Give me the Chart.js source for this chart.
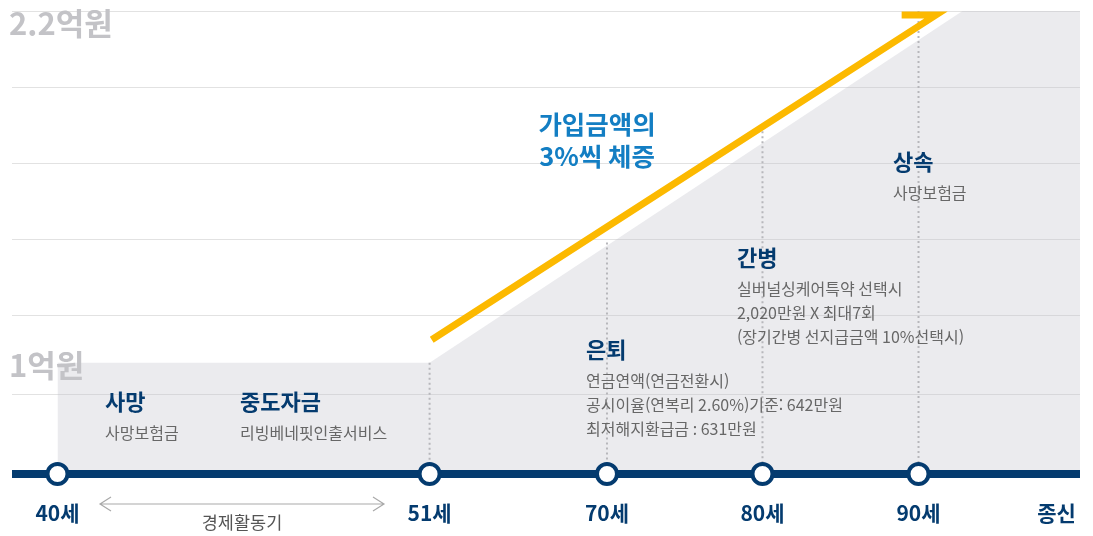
<!DOCTYPE html>
<html lang="ko">
<head>
<meta charset="utf-8">
<script src="https://cdn.jsdelivr.net/npm/chart.js@4/dist/chart.umd.min.js"></script>
<style>
  html, body { margin: 0; padding: 0; background: #fff; }
  #wrap { width: 1093px; height: 536px; position: relative; }
</style>
</head>
<body>
<div id="wrap"><canvas id="planChart"></canvas></div>
<script>
// timeline stops (position along the bar, 0-100) and their labels
const stopLabels = ['40세', '51세', '70세', '80세', '90세', '종신'];
const stopPos = [4.26, 39.1, 55.71, 70.27, 84.88, 97.8];
const markerCount = 5;

// benefit amount (억원) - gray area
const benefitX = [4.26, 39.1, 89.0, 100];
const benefitY = [1.0, 1.0, 2.2, 2.2];

// 3% yearly increase - orange arrow (last point is the arrow barb)
const premiumX = [39.3, 86.5, 83.3];
const premiumY = [1.078, 2.186, 2.186];

// dotted drop lines from each event
const dropX = [39.1, 55.71, 70.27, 84.88];
const dropTop = [1.0, 1.41, 1.79, 2.2];

// y scale
const yMin = 0.62, yMax = 2.2;
const gridValues = [2.2, 1.94, 1.68, 1.42, 1.16, 0.89];
const yLabels = [{ value: 2.2, text: '2.2억원', dy: 12 }, { value: 1.0, text: '1억원', dy: 3 }];

// event notes
const notes = [
  { x: 8.71, y: 0.866, title: '사망', lines: ['사망보험금'] },
  { x: 21.35, y: 0.866, title: '중도자금', lines: ['리빙베네핏인출서비스'] },
  { x: 53.75, y: 1.043, title: '은퇴', lines: ['연금연액(연금전환시)', '공시이율(연복리 2.60%)기준: 642만원', '최저해지환급금 : 631만원'] },
  { x: 67.88, y: 1.357, title: '간병', lines: ['실버널싱케어특약 선택시', '2,020만원 X 최대7회', '(장기간병 선지급금액 10%선택시)'] },
  { x: 82.49, y: 1.685, title: '상속', lines: ['사망보험금'] }
];
const increaseText = ['가입금액의', '3%씩 체증'];
const increaseAt = { x: 54.78, y: 1.814 };
const workSpan = [8.24, 34.83];
const workText = '경제활동기';

const NAVY = '#043b6f';
const FONT = '"Noto Sans CJK KR", "Noto Sans", sans-serif';

const pts = (xs, ys) => xs.map((x, i) => ({ x: x, y: ys[i] }));

const datasets = [
  {
    label: 'markers',
    data: stopPos.slice(0, markerCount).map(x => ({ x: x, y: yMin })),
    showLine: false,
    pointRadius: 10,
    pointBorderWidth: 4,
    pointBackgroundColor: '#fff',
    pointBorderColor: NAVY,
    clip: false,
    order: 0
  },
  {
    label: 'timeline',
    data: [{ x: 0, y: yMin }, { x: 100, y: yMin }],
    borderColor: NAVY,
    borderWidth: 8,
    pointRadius: 0,
    clip: false,
    order: 1
  },
  {
    label: 'premium',
    data: pts(premiumX, premiumY),
    borderColor: '#fcb900',
    borderWidth: 7,
    borderJoinStyle: 'miter',
    borderCapStyle: 'butt',
    pointRadius: 0,
    order: 2
  }
];

dropX.forEach((x, i) => {
  datasets.push({
    label: 'drop' + i,
    data: [{ x: x, y: dropTop[i] }, { x: x, y: yMin }],
    borderColor: '#b7b7bb',
    borderWidth: 2,
    borderDash: [2, 3],
    pointRadius: 0,
    order: 3
  });
});

datasets.push({
  label: 'benefit',
  data: pts(benefitX, benefitY),
  borderWidth: 0,
  pointRadius: 0,
  fill: 'start',
  backgroundColor: 'rgba(190, 190, 200, 0.3)',
  order: 4
});

// notes, y labels and the work period arrow
const notesPlugin = {
  id: 'notes',
  afterDraw(chart) {
    const { ctx, scales: { x, y }, chartArea } = chart;
    ctx.save();
    ctx.textBaseline = 'middle';

    ctx.textAlign = 'left';
    ctx.fillStyle = '#c3c3c7';
    ctx.font = 'bold 31px ' + FONT;
    yLabels.forEach(l => ctx.fillText(l.text, 9, y.getPixelForValue(l.value) + l.dy));

    notes.forEach(n => {
      const px = x.getPixelForValue(n.x);
      const py = y.getPixelForValue(n.y);
      ctx.fillStyle = NAVY;
      ctx.font = 'bold 22px ' + FONT;
      ctx.fillText(n.title, px, py);
      ctx.fillStyle = '#676767';
      ctx.font = '16px ' + FONT;
      n.lines.forEach((t, i) => ctx.fillText(t, px, py + 31 + i * 24));
    });

    ctx.textAlign = 'center';
    ctx.fillStyle = '#137ec3';
    ctx.font = 'bold 25.5px ' + FONT;
    const ix = x.getPixelForValue(increaseAt.x);
    const iy = y.getPixelForValue(increaseAt.y);
    increaseText.forEach((t, i) => ctx.fillText(t, ix, iy + i * 32));

    // 경제활동기 double arrow
    const ay = chartArea.bottom + 30;
    const ax1 = x.getPixelForValue(workSpan[0]);
    const ax2 = x.getPixelForValue(workSpan[1]);
    ctx.strokeStyle = '#a9a9a9';
    ctx.lineWidth = 1.2;
    ctx.beginPath();
    ctx.moveTo(ax1, ay); ctx.lineTo(ax2, ay);
    ctx.moveTo(ax1 + 11, ay - 7); ctx.lineTo(ax1, ay); ctx.lineTo(ax1 + 11, ay + 7);
    ctx.moveTo(ax2 - 11, ay - 7); ctx.lineTo(ax2, ay); ctx.lineTo(ax2 - 11, ay + 7);
    ctx.stroke();
    ctx.fillStyle = '#555';
    ctx.font = '17.5px ' + FONT;
    ctx.fillText(workText, (ax1 + ax2) / 2, ay + 18);
    ctx.restore();
  }
};

new Chart(document.getElementById('planChart'), {
  type: 'line',
  data: { datasets: datasets },
  options: {
    responsive: true,
    maintainAspectRatio: false,
    animation: false,
    layout: { autoPadding: false, padding: { left: 12, right: 13, top: 11, bottom: 0 } },
    plugins: { legend: { display: false }, tooltip: { enabled: false } },
    scales: {
      x: {
        type: 'linear',
        min: 0,
        max: 100,
        grid: { display: false },
        border: { display: false },
        afterBuildTicks: s => { s.ticks = stopPos.map(v => ({ value: v })); },
        afterFit: s => { s.height = 62; s.paddingLeft = 0; s.paddingRight = 0; },
        ticks: {
          autoSkip: false,
          maxRotation: 0,
          padding: 18,
          color: NAVY,
          font: { family: FONT, size: 21, weight: 'bold' },
          callback: (v, i) => stopLabels[i]
        }
      },
      y: {
        type: 'linear',
        min: yMin,
        max: yMax,
        afterBuildTicks: s => { s.ticks = gridValues.map(v => ({ value: v })); },
        ticks: { display: false },
        grid: { color: '#e2e2e2', lineWidth: 1, drawTicks: false },
        border: { display: false }
      }
    }
  },
  plugins: [notesPlugin]
});
</script>
</body>
</html>
